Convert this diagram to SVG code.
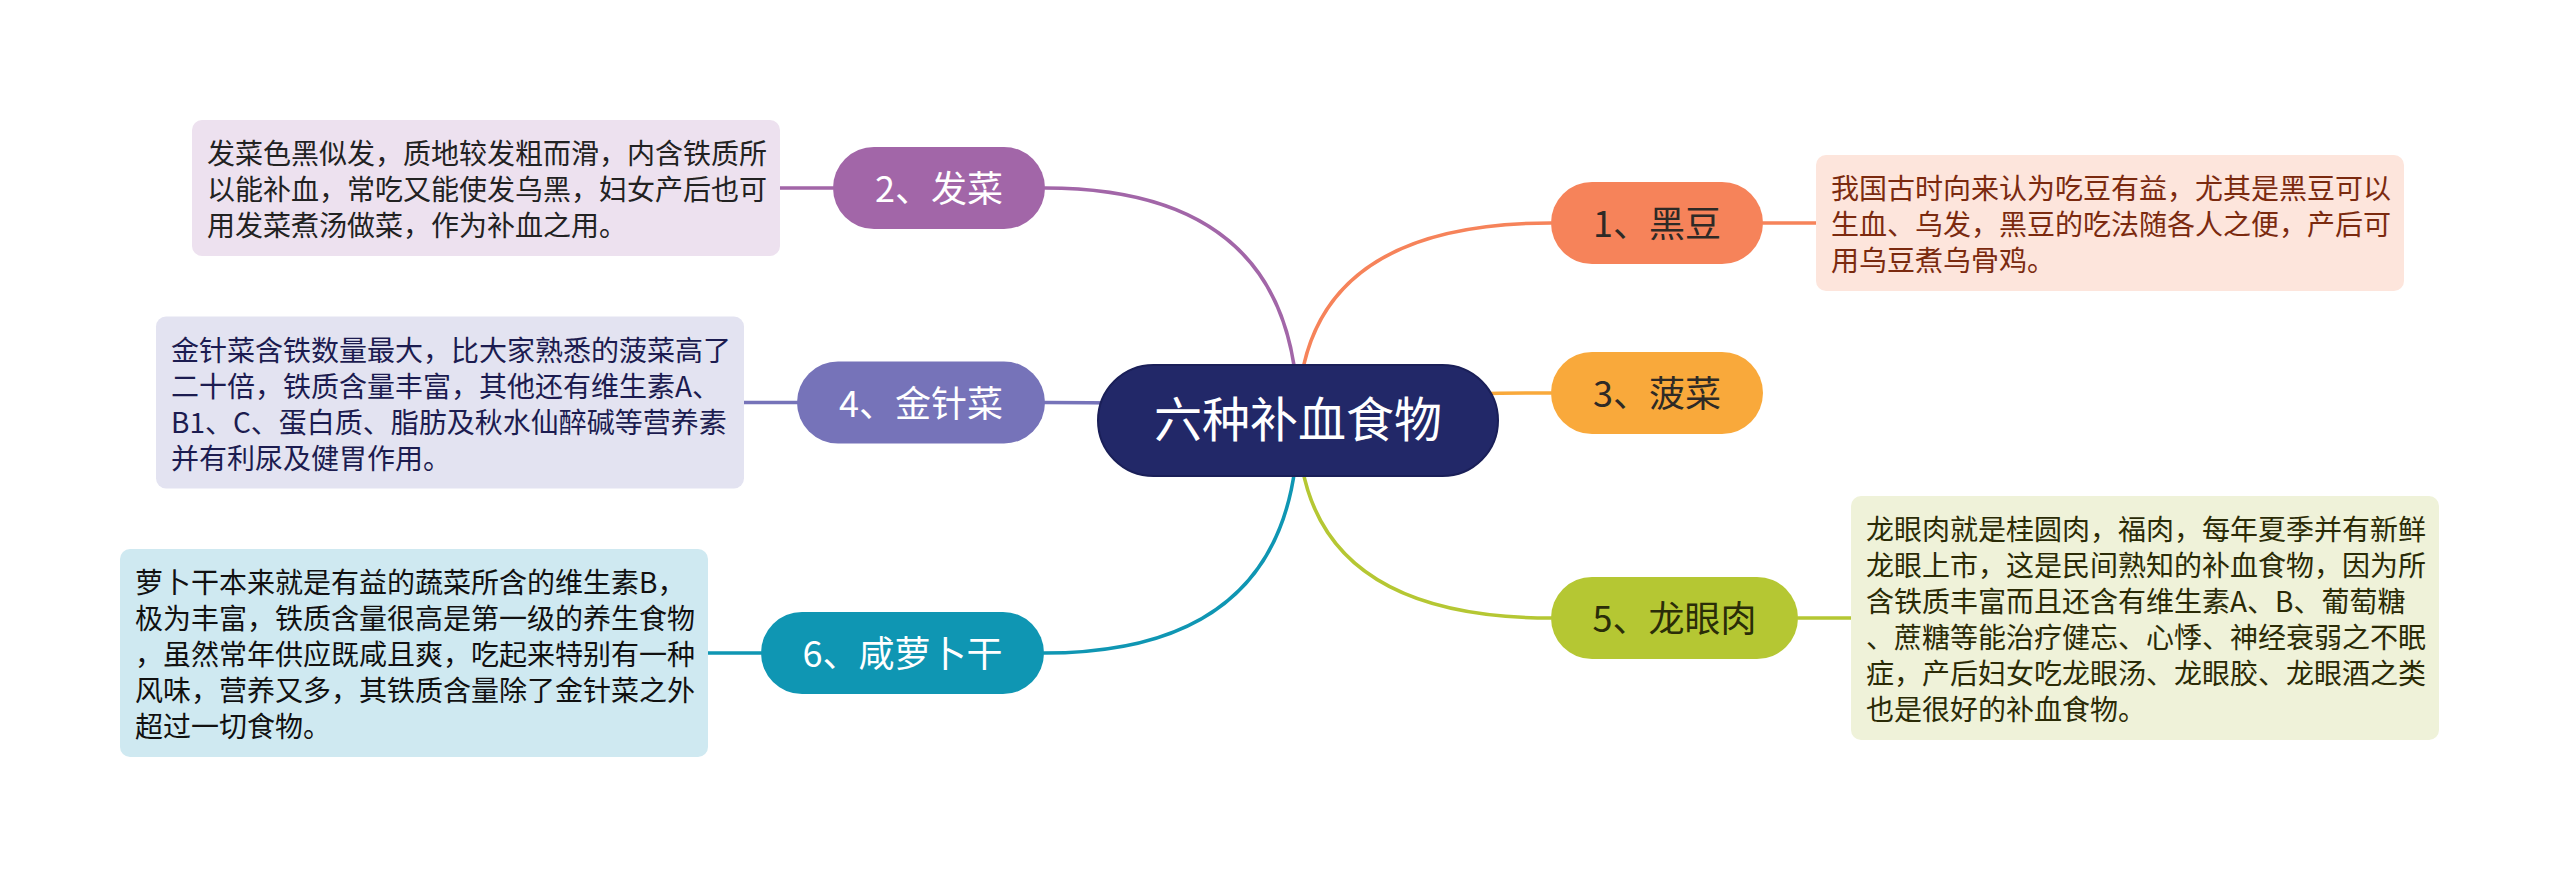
<svg xmlns="http://www.w3.org/2000/svg" width="2560" height="877" viewBox="0 0 2560 877">
<style>
text{font-family:"Noto Sans CJK SC","Noto Sans",sans-serif;}
.conn{fill:none;stroke-width:3.5;stroke-linecap:round;}
.lbl{font-size:36px;text-anchor:middle;}
.desc{font-size:28px;}
</style>
<rect width="2560" height="877" fill="#ffffff"/>
<g id="connectors">
<path class="conn" stroke="#f6835a" d="M1298,420 Q1298,223 1551,223"/>
<path class="conn" stroke="#f9a93b" d="M1298,420 Q1298,393 1551,393"/>
<path class="conn" stroke="#b5c733" d="M1298,420 Q1298,618 1551,618"/>
<path class="conn" stroke="#a266a8" d="M1298,420 Q1298,188 1045,188"/>
<path class="conn" stroke="#7673b9" d="M1298,420 Q1298,402.5 1045,402.5"/>
<path class="conn" stroke="#0f96b3" d="M1298,420 Q1298,653 1044,653"/>
<line class="conn" stroke="#f6835a" x1="1763" y1="223" x2="1816" y2="223"/>
<line class="conn" stroke="#b5c733" x1="1798" y1="618" x2="1851" y2="618"/>
<line class="conn" stroke="#a266a8" x1="833" y1="188" x2="780" y2="188"/>
<line class="conn" stroke="#7673b9" x1="797" y1="402.5" x2="744" y2="402.5"/>
<line class="conn" stroke="#0f96b3" x1="761" y1="653" x2="708" y2="653"/>
</g>
<g id="central">
<rect x="1098" y="365" width="400" height="111" rx="55.5" fill="#222868" stroke="#1a1f58" stroke-width="2"/>
<text x="1298" y="437" font-size="48" text-anchor="middle" fill="#ffffff">六种补血食物</text>
</g>
<g id="node1">
<rect x="1551" y="182" width="212" height="82" rx="41" fill="#f6835a"/>
<text class="lbl" x="1657" y="237" fill="#2e2a26">1、黑豆</text>
</g>
<g id="desc1">
<rect x="1816" y="155" width="588" height="136" rx="10" fill="#fde5dc"/>
<text class="desc" fill="#7b2a0f"><tspan x="1831" y="199">我国古时向来认为吃豆有益，尤其是黑豆可以</tspan><tspan x="1831" y="235">生血、乌发，黑豆的吃法随各人之便，产后可</tspan><tspan x="1831" y="271">用乌豆煮乌骨鸡。</tspan></text>
</g>
<g id="node3">
<rect x="1551" y="352" width="212" height="82" rx="41" fill="#f9a93b"/>
<text class="lbl" x="1657" y="407" fill="#2e2a26">3、菠菜</text>
</g>
<g id="node5">
<rect x="1551" y="577" width="247" height="82" rx="41" fill="#b5c733"/>
<text class="lbl" x="1674.5" y="632" fill="#2a2d08">5、龙眼肉</text>
</g>
<g id="desc5">
<rect x="1851" y="496" width="588" height="244" rx="10" fill="#eff2d9"/>
<text class="desc" fill="#2b2b06"><tspan x="1866" y="540">龙眼肉就是桂圆肉，福肉，每年夏季并有新鲜</tspan><tspan x="1866" y="576">龙眼上市，这是民间熟知的补血食物，因为所</tspan><tspan x="1866" y="612">含铁质丰富而且还含有维生素A、B、葡萄糖</tspan><tspan x="1866" y="648">、蔗糖等能治疗健忘、心悸、神经衰弱之不眠</tspan><tspan x="1866" y="684">症，产后妇女吃龙眼汤、龙眼胶、龙眼酒之类</tspan><tspan x="1866" y="720">也是很好的补血食物。</tspan></text>
</g>
<g id="node2">
<rect x="833" y="147" width="212" height="82" rx="41" fill="#a266a8"/>
<text class="lbl" x="939" y="202" fill="#ffffff">2、发菜</text>
</g>
<g id="desc2">
<rect x="192" y="120" width="588" height="136" rx="10" fill="#ede1ef"/>
<text class="desc" fill="#222222"><tspan x="207" y="164">发菜色黑似发，质地较发粗而滑，内含铁质所</tspan><tspan x="207" y="200">以能补血，常吃又能使发乌黑，妇女产后也可</tspan><tspan x="207" y="236">用发菜煮汤做菜，作为补血之用。</tspan></text>
</g>
<g id="node4">
<rect x="797" y="361.5" width="248" height="82" rx="41" fill="#7673b9"/>
<text class="lbl" x="921" y="416.5" fill="#ffffff">4、金针菜</text>
</g>
<g id="desc4">
<rect x="156" y="316.5" width="588" height="172" rx="10" fill="#e3e3f1"/>
<text class="desc" fill="#1c1c50"><tspan x="171" y="360.5">金针菜含铁数量最大，比大家熟悉的菠菜高了</tspan><tspan x="171" y="396.5">二十倍，铁质含量丰富，其他还有维生素A、</tspan><tspan x="171" y="432.5">B1、C、蛋白质、脂肪及秋水仙醉碱等营养素</tspan><tspan x="171" y="468.5">并有利尿及健胃作用。</tspan></text>
</g>
<g id="node6">
<rect x="761" y="612" width="283" height="82" rx="41" fill="#0f96b3"/>
<text class="lbl" x="902.5" y="667" fill="#ffffff">6、咸萝卜干</text>
</g>
<g id="desc6">
<rect x="120" y="549" width="588" height="208" rx="10" fill="#cfe9f1"/>
<text class="desc" fill="#111111"><tspan x="135" y="593">萝卜干本来就是有益的蔬菜所含的维生素B，</tspan><tspan x="135" y="629">极为丰富，铁质含量很高是第一级的养生食物</tspan><tspan x="135" y="665">，虽然常年供应既咸且爽，吃起来特别有一种</tspan><tspan x="135" y="701">风味，营养又多，其铁质含量除了金针菜之外</tspan><tspan x="135" y="737">超过一切食物。</tspan></text>
</g>
</svg>
